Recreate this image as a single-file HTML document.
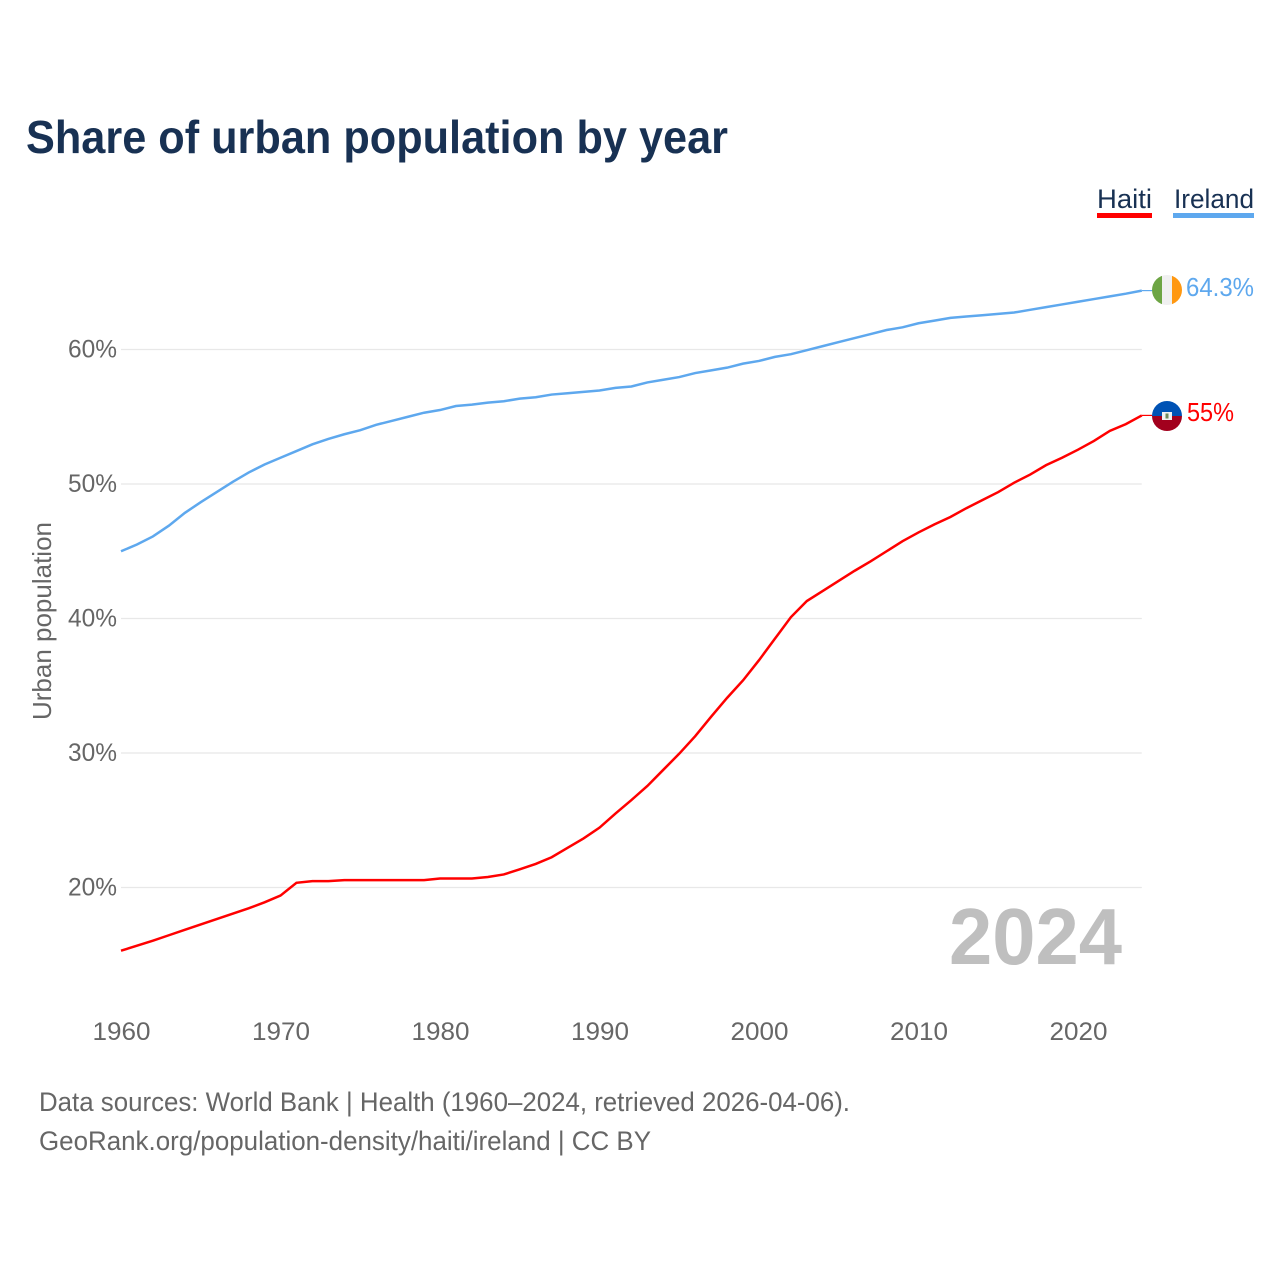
<!DOCTYPE html>
<html lang="en">
<head>
<meta charset="utf-8">
<title>Share of urban population by year</title>
<style>
html,body{margin:0;padding:0;background:#fff;width:1280px;height:1280px;overflow:hidden}
svg{display:block}
text{font-family:"Liberation Sans",sans-serif}
</style>
</head>
<body>
<svg id="chart" xmlns="http://www.w3.org/2000/svg" width="1280" height="1280" viewBox="0 0 1280 1280">
  <defs>
    <clipPath id="ireland-clip"><circle cx="1167" cy="290" r="15"/></clipPath>
    <clipPath id="haiti-clip"><circle cx="1167" cy="416" r="15"/></clipPath>
  </defs>
  <rect width="1280" height="1280" fill="#fff"/>
  <text x="26" y="153" font-size="46" font-weight="700" fill="#183153" textLength="702" lengthAdjust="spacingAndGlyphs">Share of urban population by year</text>

  <g>
    <g>
      <text x="1097" y="208" font-size="27" fill="#183153" textLength="55" lengthAdjust="spacingAndGlyphs">Haiti</text>
      <rect x="1097" y="213" width="55" height="5" fill="#ff0000"/>
    </g>
    <g>
      <text x="1174" y="208" font-size="27" fill="#183153" textLength="80" lengthAdjust="spacingAndGlyphs">Ireland</text>
      <rect x="1173" y="213" width="81" height="5" fill="#5ea8ee"/>
    </g>
  </g>

  <g id="grid"></g>
  <g id="y-ticks"></g>
  <g id="x-ticks"></g>
  <text transform="translate(51 621) rotate(-90)" text-anchor="middle" font-size="26" fill="#666" textLength="198" lengthAdjust="spacingAndGlyphs">Urban population</text>
  <text x="949" y="964" font-size="80" font-weight="700" fill="#bfbfbf" textLength="173" lengthAdjust="spacingAndGlyphs">2024</text>

  <g id="series"></g>

  <g clip-path="url(#ireland-clip)">
    <rect x="1152" y="275" width="10" height="30" fill="#6da544"/>
    <rect x="1162" y="275" width="10" height="30" fill="#f0f0f0"/>
    <rect x="1172" y="275" width="10" height="30" fill="#ff9811"/>
  </g>
  <g clip-path="url(#haiti-clip)">
    <rect x="1152" y="401" width="30" height="15" fill="#0052b4"/>
    <rect x="1152" y="416" width="30" height="15" fill="#a2001d"/>
    <rect x="1162" y="412" width="10" height="8" fill="#f0f0f0"/>
    <rect x="1165.5" y="413.5" width="3" height="5" fill="#6d8a5a"/>
  </g>
  <text x="1186" y="296" font-size="26" fill="#5ea8ee" textLength="68" lengthAdjust="spacingAndGlyphs">64.3%</text>
  <text x="1187" y="421" font-size="26" fill="#ff0000" textLength="47" lengthAdjust="spacingAndGlyphs">55%</text>

  <text x="39" y="1111" font-size="27" fill="#666" textLength="811" lengthAdjust="spacingAndGlyphs">Data sources: World Bank | Health (1960–2024, retrieved 2026-04-06).</text>
  <text x="39" y="1150" font-size="27" fill="#666" textLength="612" lengthAdjust="spacingAndGlyphs">GeoRank.org/population-density/haiti/ireland | CC BY</text>
</svg>
<script>
const startYear = 1960;
const yTickValues = [20, 30, 40, 50, 60];
const xTickYears = [1960, 1970, 1980, 1990, 2000, 2010, 2020];
const haitiValues = [15.3,15.67,16.05,16.45,16.85,17.25,17.65,18.05,18.45,18.9,19.4,20.35,20.47,20.47,20.55,20.55,20.55,20.55,20.55,20.55,20.67,20.67,20.67,20.78,20.97,21.35,21.75,22.25,22.95,23.65,24.45,25.5,26.5,27.55,28.75,29.95,31.25,32.7,34.1,35.4,36.9,38.5,40.1,41.3,42.05,42.8,43.55,44.25,45.0,45.75,46.4,47.0,47.55,48.2,48.8,49.4,50.1,50.7,51.4,51.95,52.55,53.2,53.95,54.45,55.1];
const irelandValues = [45.0,45.5,46.1,46.9,47.85,48.65,49.4,50.15,50.85,51.45,51.95,52.45,52.95,53.35,53.7,54.0,54.4,54.7,55.0,55.3,55.5,55.8,55.9,56.05,56.15,56.35,56.45,56.65,56.75,56.85,56.95,57.15,57.25,57.55,57.75,57.95,58.25,58.45,58.65,58.95,59.15,59.45,59.65,59.95,60.25,60.55,60.85,61.15,61.45,61.65,61.95,62.15,62.35,62.45,62.55,62.65,62.75,62.95,63.15,63.35,63.55,63.75,63.95,64.15,64.38];

const NS = 'http://www.w3.org/2000/svg';
function xScale(year) { return 121 + (year - 1960) * 15.95; }
function yScale(value) { return 887.5 - (value - 20) * 13.45; }

const grid = document.getElementById('grid');
const yTicks = document.getElementById('y-ticks');
const xTicks = document.getElementById('x-ticks');
const series = document.getElementById('series');

yTickValues.forEach(function (v) {
  const line = document.createElementNS(NS, 'line');
  
  
  line.setAttribute('x1', 121);
  line.setAttribute('x2', xScale(2024));
  line.setAttribute('y1', yScale(v));
  line.setAttribute('y2', yScale(v));
  line.setAttribute('stroke', '#e8e8e8');
  line.setAttribute('stroke-width', '1.2');
  grid.appendChild(line);

  const label = document.createElementNS(NS, 'text');
  
  
  label.setAttribute('x', 117);
  label.setAttribute('y', yScale(v) + 8);
  label.setAttribute('text-anchor', 'end');
  label.setAttribute('font-size', '25');
  label.setAttribute('fill', '#666');
  label.setAttribute('textLength', '49');
  label.setAttribute('lengthAdjust', 'spacingAndGlyphs');
  label.textContent = v + '%';
  yTicks.appendChild(label);
});

xTickYears.forEach(function (year) {
  const label = document.createElementNS(NS, 'text');
  
  
  label.setAttribute('x', xScale(year) + 0.5);
  label.setAttribute('y', 1040);
  label.setAttribute('text-anchor', 'middle');
  label.setAttribute('font-size', '25');
  label.setAttribute('fill', '#666');
  label.setAttribute('textLength', '58');
  label.setAttribute('lengthAdjust', 'spacingAndGlyphs');
  label.textContent = year;
  xTicks.appendChild(label);
});

function linePoints(values) {
  return values.map(function (v, i) {
    return xScale(startYear + i).toFixed(2) + ',' + yScale(v).toFixed(2);
  }).join(' ');
}

function addSeries(values, color, lineName, connectorName) {
  const line = document.createElementNS(NS, 'polyline');
  
  
  line.setAttribute('points', linePoints(values));
  line.setAttribute('fill', 'none');
  line.setAttribute('stroke', color);
  line.setAttribute('stroke-width', '2.5');
  series.appendChild(line);

  const lastY = yScale(values[values.length - 1]);
  const connector = document.createElementNS(NS, 'line');
  
  
  connector.setAttribute('x1', xScale(startYear + values.length - 1));
  connector.setAttribute('x2', 1154);
  connector.setAttribute('y1', lastY);
  connector.setAttribute('y2', lastY);
  connector.setAttribute('stroke', color);
  connector.setAttribute('stroke-width', '1.2');
  series.appendChild(connector);
}

addSeries(haitiValues, '#ff0000', 'haiti-line', 'haiti-label-connector');
addSeries(irelandValues, '#5ea8ee', 'ireland-line', 'ireland-label-connector');
</script>
</body>
</html>
